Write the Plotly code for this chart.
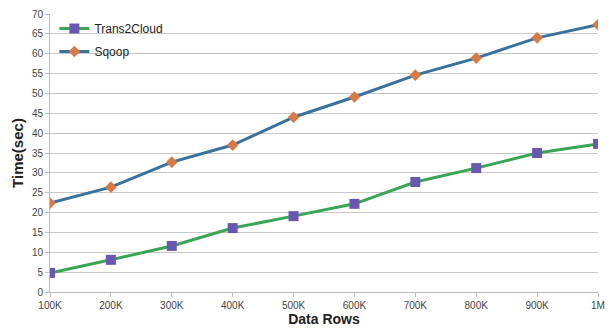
import plotly.graph_objects as go

categories = ["100K", "200K", "300K", "400K", "500K", "600K", "700K", "800K", "900K", "1M"]
trans2cloud = [4.8, 8.1, 11.6, 16.1, 19.1, 22.2, 27.7, 31.2, 35.0, 37.3]
sqoop = [22.4, 26.4, 32.7, 37.0, 44.0, 49.1, 54.6, 58.9, 64.0, 67.3]
y_ticks = list(range(0, 71, 5))

fig = go.Figure()
fig.add_trace(go.Scatter(
    x=categories, y=trans2cloud, name="Trans2Cloud", mode="lines+markers",
    legendgroup="a",
    line=dict(color="#3aa655", width=3),
    marker=dict(symbol="square", size=10, color="#6a58b0", line=dict(width=0))))
fig.add_trace(go.Scatter(
    x=categories, y=sqoop, name="Sqoop", mode="lines+markers",
    legendgroup="b",
    line=dict(color="#3a729e", width=3),
    marker=dict(symbol="diamond", size=9, color="#d87a45", line=dict(width=0))))

fig.update_layout(
    width=610, height=328,
    margin=dict(l=50, r=12, t=14, b=36, autoexpand=False),
    paper_bgcolor="white", plot_bgcolor="white",
    font=dict(family="Liberation Sans, Arial, sans-serif", color="#444", size=10),
    showlegend=True,
    legend=dict(x=0.008, y=1.0, xanchor="left", yanchor="top",
                bgcolor="rgba(0,0,0,0)", font=dict(size=12, color="#222"),
                itemwidth=30, tracegroupgap=4),
    xaxis=dict(type="category", range=[0, 9], showgrid=False, automargin=False,
               showline=True, linecolor="#bbb", linewidth=1,
               ticks="outside", tickcolor="#bbb", ticklen=4,
               tickfont=dict(size=10, color="#444"),
               title=dict(text="<b>Data Rows</b>", font=dict(size=14, color="#222"), standoff=4)),
    yaxis=dict(range=[0, 70], tickvals=y_ticks, showgrid=True, gridcolor="#c8c8c8",
               showline=True, linecolor="#bbb", linewidth=1, automargin=False,
               ticks="outside", tickcolor="#bbb", ticklen=4,
               tickfont=dict(size=10, color="#444"), zeroline=False,
               title=dict(text="<b>Time(sec)</b>", font=dict(size=15, color="#222"), standoff=4)),
)
fig.write_html("out.html", config={"displayModeBar": False},
               post_script="document.body.style.margin='0';document.body.style.overflow='hidden';")
